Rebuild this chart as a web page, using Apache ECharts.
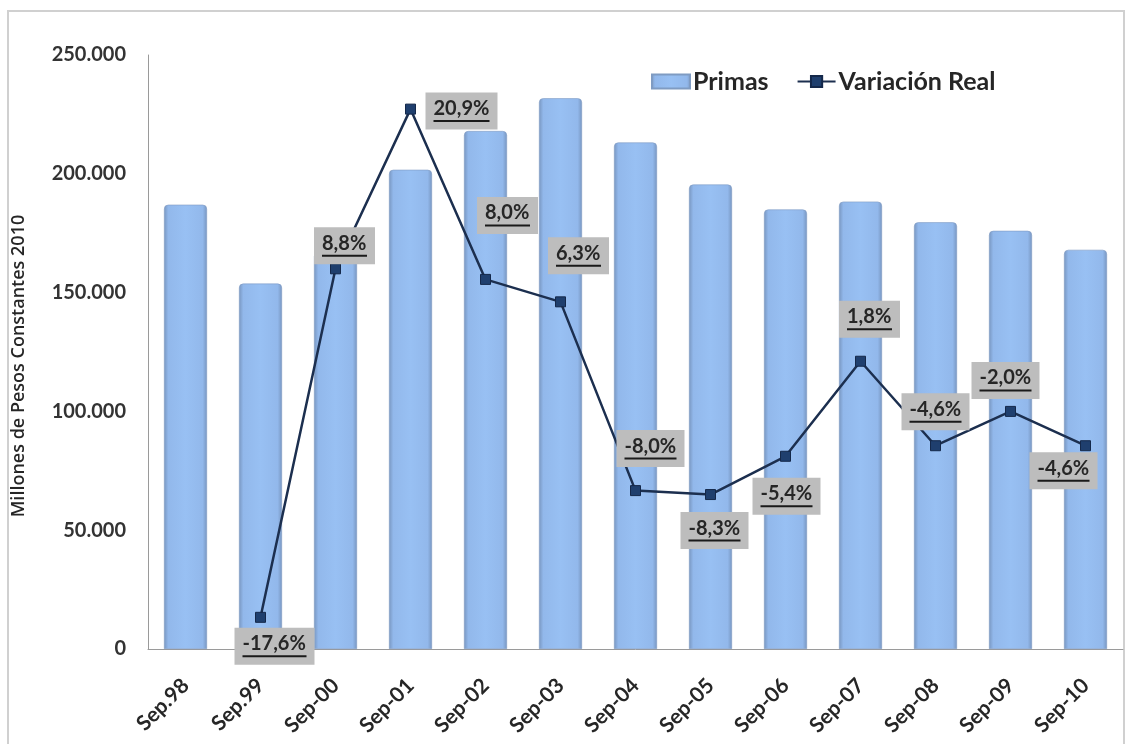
<!DOCTYPE html>
<html>
<head>
<meta charset="utf-8">
<script src="https://cdn.jsdelivr.net/npm/echarts@6/dist/echarts.min.js"></script>
<style>
html,body{margin:0;padding:0;background:#fff;}
#chart{width:1131px;height:744px;}
</style>
</head>
<body>
<div id="chart"></div>
<script>
const categories = ['Sep.98','Sep.99','Sep-00','Sep-01','Sep-02','Sep-03','Sep-04','Sep-05','Sep-06','Sep-07','Sep-08','Sep-09','Sep-10'];
const primas = [187000, 153800, 167000, 201700, 218000, 231800, 213200, 195500, 185000, 188300, 179600, 176000, 168000];
const variacionReal = [null, -17.6, 8.8, 20.9, 8.0, 6.3, -8.0, -8.3, -5.4, 1.8, -4.6, -2.0, -4.6];
const yTicks = [0, 50000, 100000, 150000, 200000, 250000];
// label placement offsets (px), styling only
const labelOffsets = [[0,0],[14,29],[9,-23],[51,2],[22,-64],[18,-46],[15,-42],[4,36],[1,40],[9,-42],[0,-34],[-5,-31],[-22,25]];

const FONT = 'Lato, "Open Sans", sans-serif';
const LABEL_SIZE = 20;
const fmtThousands = v => String(v).replace(/\B(?=(\d{3})+(?!\d))/g, '.');
const fmtPct = v => v.toFixed(1).replace('.', ',') + '%';

const measureCtx = document.createElement('canvas').getContext('2d');
measureCtx.font = 'bold ' + LABEL_SIZE + 'px Lato';
const textWidth = s => Math.ceil(measureCtx.measureText(s).width);

const chart = echarts.init(document.getElementById('chart'), null, {renderer: 'canvas'});

const lineData = variacionReal.map((v, i) => {
  if (v === null) return null;
  const txt = fmtPct(v);
  const w = textWidth(txt);
  return {
    value: v,
    label: {
      show: true,
      position: 'inside',
      offset: labelOffsets[i],
      formatter: '{t|' + txt + '}\n{u|}',
      backgroundColor: '#bdbdbd',
      padding: [5, 8, 7, 8],
      align: 'center',
      verticalAlign: 'middle',
      rich: {
        t: {fontFamily: FONT, fontSize: LABEL_SIZE, fontWeight: 'bold', color: '#262626', lineHeight: 22, width: w, align: 'left'},
        u: {width: w, height: 2, backgroundColor: '#1a1a1a', lineHeight: 3, align: 'left'}
      }
    }
  };
});

const barGradient = new echarts.graphic.LinearGradient(0, 0, 1, 0, [
  {offset: 0, color: '#7896c0'},
  {offset: 0.1, color: '#92b8eb'},
  {offset: 0.5, color: '#98c0f3'},
  {offset: 0.9, color: '#92b8eb'},
  {offset: 1, color: '#7896c0'}
]);

chart.setOption({
  animation: false,
  backgroundColor: '#ffffff',
  graphic: [{
    type: 'rect',
    shape: {x: 8, y: 11, width: 1116, height: 760},
    style: {fill: 'none', stroke: '#d0d0d0', lineWidth: 2},
    silent: true
  }],
  grid: {left: 148, right: 8, top: 55, bottom: 95, containLabel: false, outerBoundsMode: 'none'},
  legend: {
    left: 646, top: 64,
    itemGap: 28,
    itemWidth: 38, itemHeight: 14,
    textStyle: {fontFamily: FONT, fontSize: 25, fontWeight: 'bold', color: '#262626', padding: [0, 0, 0, -2]},
    data: [
      {name: 'Primas', icon: 'rect'},
      {name: 'Variación Real'}
    ]
  },
  xAxis: {
    type: 'category',
    data: categories,
    axisLine: {lineStyle: {color: '#9a9a9a', width: 1}},
    axisTick: {show: false},
    axisLabel: {
      rotate: 45, interval: 0, margin: 33,
      fontFamily: FONT, fontSize: 21, fontWeight: 'bold', color: '#262626'
    }
  },
  yAxis: [{
    type: 'value',
    min: 0, max: 250000, interval: 50000,
    name: 'Millones de Pesos Constantes 2010',
    nameLocation: 'middle',
    nameGap: 120,
    nameRotate: 90,
    nameTextStyle: {fontFamily: '"Open Sans", sans-serif', fontSize: 18, fontWeight: 600, color: '#262626', padding: [0, 28, 0, 0]},
    axisLine: {show: true, lineStyle: {color: '#9a9a9a', width: 1}},
    axisTick: {show: false},
    splitLine: {show: false},
    axisLabel: {
      margin: 22,
      fontFamily: FONT, fontSize: 20, fontWeight: 'bold', color: '#333333',
      formatter: v => yTicks.includes(v) ? fmtThousands(v) : ''
    }
  }, {
    type: 'value',
    min: -20, max: 25, interval: 5,
    show: false,
    splitLine: {show: false}
  }],
  series: [{
    name: 'Primas',
    type: 'bar',
    data: primas,
    barWidth: 43,
    itemStyle: {
      color: barGradient,
      borderRadius: [4, 4, 0, 0],
      borderColor: '#7f9bc2',
      borderWidth: 0.6
    }
  }, {
    name: 'Variación Real',
    type: 'line',
    yAxisIndex: 1,
    data: lineData,
    connectNulls: false,
    symbol: 'rect',
    symbolSize: 10,
    lineStyle: {color: '#1c2f4f', width: 2.5},
    itemStyle: {color: '#1f3f6e', borderColor: '#14284a', borderWidth: 1},
    z: 5
  }]
});
</script>
</body>
</html>
